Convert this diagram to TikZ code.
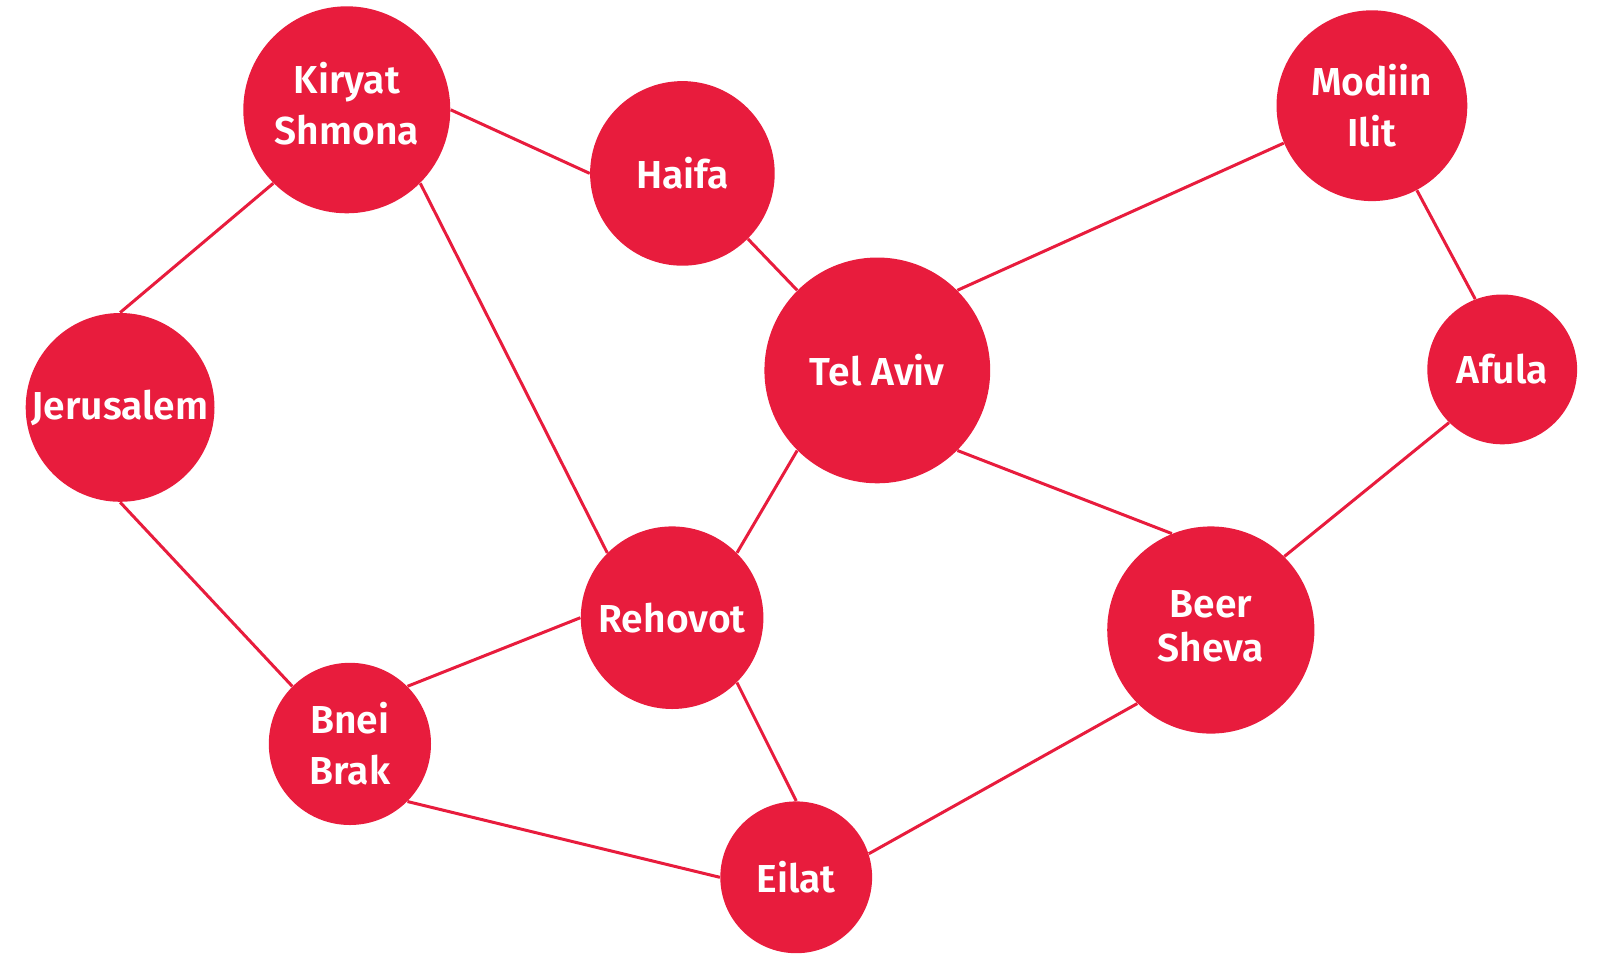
\documentclass[tikz,border=0pt]{standalone}
\usepackage{fontspec}
\setmainfont{Fira Sans}[BoldFont={Fira Sans SemiBold}]
\usepackage{tikz}
\definecolor{cityred}{HTML}{E81C3D}
\tikzset{
  city/.style={circle,fill=cityred,draw=none,text=white,inner sep=0pt,
    align=center,font=\bfseries\fontsize{19.5}{25.5}\selectfont},
  road/.style={draw=cityred,line width=1.5pt}
}

\begin{document}
\begin{tikzpicture}[x=0.5pt,y=-0.5pt]
  \useasboundingbox (0,0) rectangle (1609,953);
  % cities
  \node[city,minimum size=207pt*0.5,text depth=6.2pt] (kiryat) at (346.8,109.8) {Kiryat\\Shmona};
  \node[city,minimum size=184.6pt*0.5] (haifa) at (682.4,173.4) {Haifa};
  \node[city,minimum size=190.8pt*0.5] (modiin) at (1371.9,105.7) {Modiin\\Ilit};
  \node[city,minimum size=188.8pt*0.5] (jerusalem) at (120.1,407.4) {Jerusalem};
  \node[city,minimum size=225.8pt*0.5] (telaviv) at (877.3,370.4) {Tel Aviv};
  \node[city,minimum size=149.8pt*0.5] (afula) at (1502.2,369.4) {Afula};
  \node[city,minimum size=182.6pt*0.5] (rehovot) at (672.1,617.7) {Rehovot};
  \node[city,minimum size=207.2pt*0.5,text depth=4pt] (beersheva) at (1210.8,630.0) {Beer\\[-3.6pt]Sheva};
  \node[city,minimum size=162.2pt*0.5] (bneibrak) at (349.9,743.9) {Bnei\\Brak};
  \node[city,minimum size=151.8pt*0.5] (eilat) at (796.2,877.3) {Eilat};
  % roads, border to border
  \path[road] (kiryat.0) -- (haifa.180);
  \path[road] (kiryat.225) -- (jerusalem.90);
  \path[road] (kiryat.315) -- (rehovot.135);
  \path[road] (haifa.315) -- (telaviv.135);
  \path[road] (telaviv.45) -- (modiin.203);
  \path[road] (telaviv.225) -- (rehovot.45);
  \path[road] (telaviv.315) -- (beersheva.112);
  \path[road] (modiin.298) -- (afula.111);
  \path[road] (afula.225) -- (beersheva.45);
  \path[road] (jerusalem.270) -- (bneibrak.135);
  \path[road] (bneibrak.45) -- (rehovot.180);
  \path[road] (bneibrak.315) -- (eilat.180);
  \path[road] (rehovot.315) -- (eilat.90);
  \path[road] (eilat.18) -- (beersheva.225);
\end{tikzpicture}
\end{document}
